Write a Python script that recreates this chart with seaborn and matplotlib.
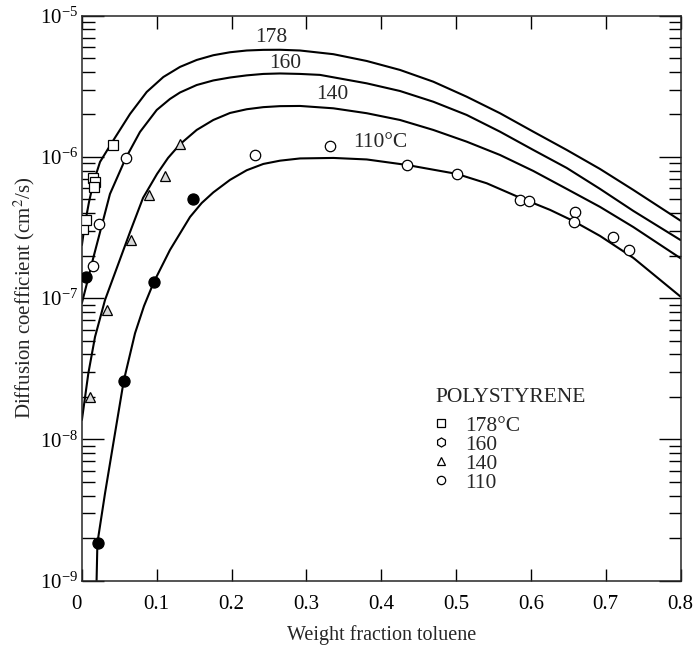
import numpy as np
import pandas as pd
import matplotlib
matplotlib.use('Agg')
import matplotlib.pyplot as plt
from matplotlib.lines import Line2D
from matplotlib.ticker import LogLocator, FixedLocator, NullFormatter
import seaborn as sns

# fitted curves (weight fraction, D in cm2/s)
x_178 = [0.0, 0.0028, 0.0055, 0.0095, 0.0152, 0.0242, 0.0406, 0.0643, 0.0866, 0.1088,
         0.1311, 0.1534, 0.1756, 0.1979, 0.2202, 0.2424, 0.2647, 0.2915, 0.3360, 0.3806,
         0.4251, 0.4696, 0.5142, 0.5587, 0.6032, 0.6479, 0.6924, 0.7369, 0.8]
d_178 = [2.38e-7, 3.04e-7, 3.70e-7, 4.80e-7, 6.54e-7, 9.22e-7, 1.277e-6, 2.015e-6, 2.885e-6,
         3.68e-6, 4.34e-6, 4.86e-6, 5.25e-6, 5.51e-6, 5.67e-6, 5.73e-6, 5.74e-6, 5.67e-6,
         5.34e-6, 4.78e-6, 4.13e-6, 3.41e-6, 2.67e-6, 2.04e-6, 1.51e-6, 1.121e-6, 8.22e-7,
         5.84e-7, 3.54e-7]

x_160 = [0.0, 0.0082, 0.0152, 0.0229, 0.0375, 0.0585, 0.0776, 0.1000, 0.1177, 0.1311,
         0.1534, 0.1756, 0.1979, 0.2202, 0.2424, 0.2647, 0.2915, 0.3182, 0.3806, 0.4251,
         0.4696, 0.5142, 0.5587, 0.6032, 0.6479, 0.6924, 0.7369, 0.8]
d_160 = [9.25e-8, 1.369e-7, 1.93e-7, 2.76e-7, 5.47e-7, 9.79e-7, 1.503e-6, 2.151e-6, 2.574e-6,
         2.86e-6, 3.23e-6, 3.48e-6, 3.65e-6, 3.78e-6, 3.87e-6, 3.90e-6, 3.87e-6, 3.81e-6,
         3.32e-6, 2.93e-6, 2.46e-6, 1.983e-6, 1.51e-6, 1.121e-6, 8.36e-7, 5.94e-7, 4.15e-7,
         2.58e-7]

x_140 = [0.0, 0.0086, 0.0175, 0.0309, 0.0496, 0.0643, 0.0817, 0.1004, 0.1151, 0.1311,
         0.1534, 0.1756, 0.1979, 0.2202, 0.2424, 0.2647, 0.2915, 0.3360, 0.3806, 0.4251,
         0.4696, 0.5142, 0.5587, 0.6032, 0.6479, 0.6924, 0.7369, 0.8]
d_140 = [1.374e-8, 2.94e-8, 5.32e-8, 9.72e-8, 1.805e-7, 2.94e-7, 5.13e-7, 7.58e-7, 9.84e-7,
         1.23e-6, 1.553e-6, 1.827e-6, 2.048e-6, 2.176e-6, 2.252e-6, 2.289e-6, 2.296e-6,
         2.21e-6, 2.04e-6, 1.827e-6, 1.553e-6, 1.283e-6, 1.033e-6, 7.96e-7, 5.94e-7,
         4.43e-7, 3.19e-7, 1.918e-7]

x_110 = [0.0196, 0.0207, 0.0309, 0.0420, 0.0559, 0.0710, 0.0830, 0.0960, 0.1177, 0.1445,
         0.1601, 0.1756, 0.1979, 0.2202, 0.2424, 0.2647, 0.2915, 0.3360, 0.3806, 0.4341,
         0.5013, 0.5410, 0.5845, 0.6256, 0.6567, 0.6924, 0.7369, 0.8]
d_110 = [1.0e-9, 1.851e-9, 4.16e-9, 9.40e-9, 2.60e-8, 5.65e-8, 8.81e-8, 1.297e-7, 2.196e-7,
         3.76e-7, 4.72e-7, 5.61e-7, 6.88e-7, 8.05e-7, 8.92e-7, 9.41e-7, 9.76e-7, 9.84e-7,
         9.60e-7, 8.78e-7, 7.58e-7, 6.51e-7, 5.17e-7, 4.22e-7, 3.52e-7, 2.76e-7, 1.93e-7,
         1.026e-7]

# measured points
sq_x = [0.002, 0.005, 0.015, 0.017, 0.016, 0.041]
sq_d = [3.1e-7, 3.6e-7, 7.1e-7, 6.6e-7, 6.1e-7, 1.22e-6]
c160_x = [0.015, 0.023, 0.059]
c160_d = [1.70e-7, 3.36e-7, 9.8e-7]
tri_x = [0.011, 0.034, 0.066, 0.090, 0.111, 0.131]
tri_d = [2.0e-8, 8.2e-8, 2.6e-7, 5.4e-7, 7.3e-7, 1.23e-6]
fill_x = [0.005, 0.021, 0.056, 0.096, 0.148]
fill_d = [1.41e-7, 1.85e-9, 2.6e-8, 1.30e-7, 5.05e-7]
open_x = [0.231, 0.331, 0.434, 0.501, 0.585, 0.598, 0.659, 0.657, 0.710, 0.731]
open_d = [1.03e-6, 1.20e-6, 8.8e-7, 7.6e-7, 4.99e-7, 4.9e-7, 4.07e-7, 3.45e-7, 2.69e-7, 2.2e-7]

curve_labels = ['178', '160', '140', '110°C']
label_x = [0.253, 0.272, 0.334, 0.399]
label_d = [7.0e-6, 4.6e-6, 2.78e-6, 1.26e-6]

legend_title = 'POLYSTYRENE'
legend_labels = ['178°C', '160', '140', '110']

x_ticks = [0, 0.1, 0.2, 0.3, 0.4, 0.5, 0.6, 0.7, 0.8]
x_ticklabels = ['0', '0.1', '0.2', '0.3', '0.4', '0.5', '0.6', '0.7', '0.8']

sns.set_style('ticks')
plt.rcParams['font.family'] = ['Liberation Serif', 'DejaVu Serif']
plt.rcParams['mathtext.fontset'] = 'stix'
plt.rcParams['axes.linewidth'] = 1.1

fig = plt.figure(figsize=(6.93, 6.46), dpi=100)
ax = fig.add_axes([0.1182, 0.1011, 0.8638, 0.8746])

for xs, ds in [(x_178, d_178), (x_160, d_160), (x_140, d_140), (x_110, d_110)]:
    df = pd.DataFrame({'x': xs, 'd': ds})
    sns.lineplot(data=df, x='x', y='d', color='black', linewidth=1.5, ax=ax, sort=False)

ms = 7.5
ax.plot(sq_x, sq_d, 's', ms=ms, mfc='white', mec='black', mew=0.9, zorder=3)
ax.plot(c160_x, c160_d, 'o', ms=ms, mfc='white', mec='black', mew=0.9, zorder=3)
ax.plot(tri_x, tri_d, '^', ms=ms, mfc='#d8d8d8', mec='black', mew=0.9, zorder=3)
ax.plot(fill_x, fill_d, 'o', ms=ms + 0.5, mfc='black', mec='black', mew=0.9, zorder=3)
ax.plot(open_x, open_d, 'o', ms=ms, mfc='white', mec='black', mew=0.9, zorder=3)

for lab, lx, ld in zip(curve_labels, label_x, label_d):
    ax.text(lx, ld, lab, fontsize=15.5, ha='center', va='center')

ax.set_yscale('log')
ax.set_xlim(0, 0.8)
ax.set_ylim(1e-9, 1e-5)
ax.xaxis.set_major_locator(FixedLocator(x_ticks))
ax.set_xticklabels(x_ticklabels)
ax.get_xticklabels()[0].set_horizontalalignment('right')
ax.yaxis.set_major_locator(LogLocator(base=10, numticks=10))
ax.yaxis.set_minor_locator(LogLocator(base=10, subs=np.arange(2, 10), numticks=10))
ax.yaxis.set_minor_formatter(NullFormatter())
ax.tick_params(axis='both', which='both', direction='in', top=True, right=True,
               labelsize=15, width=1.0, colors='black')
ax.tick_params(axis='x', which='major', length=9, pad=10)
ax.tick_params(axis='y', which='major', length=16, pad=3)
ax.tick_params(axis='y', which='minor', length=9)

ax.set_xlabel('Weight fraction toluene', fontsize=14.5, labelpad=8)
ax.set_ylabel('Diffusion coefficient (cm$^2$/s)', fontsize=15, labelpad=2)

# legend: title as plain text, entries as marker + label
ax.text(0.590, 0.325, legend_title, transform=ax.transAxes, fontsize=15.5,
        ha='left', va='center')
handles = [
    Line2D([], [], ls='none', marker='s', ms=6, mfc='white', mec='black', mew=0.9),
    Line2D([], [], ls='none', marker='h', ms=6.5, mfc='white', mec='black', mew=0.9),
    Line2D([], [], ls='none', marker='^', ms=6, mfc='white', mec='black', mew=0.9),
    Line2D([], [], ls='none', marker='o', ms=6, mfc='white', mec='black', mew=0.9),
]
ax.legend(handles, legend_labels, loc='upper left', bbox_to_anchor=(0.5815, 0.2924),
          frameon=False, fontsize=15.5, handlelength=1.0, handletextpad=0.63,
          labelspacing=-0.05, borderpad=0, borderaxespad=0)

fig.savefig('out.png', dpi=100)
